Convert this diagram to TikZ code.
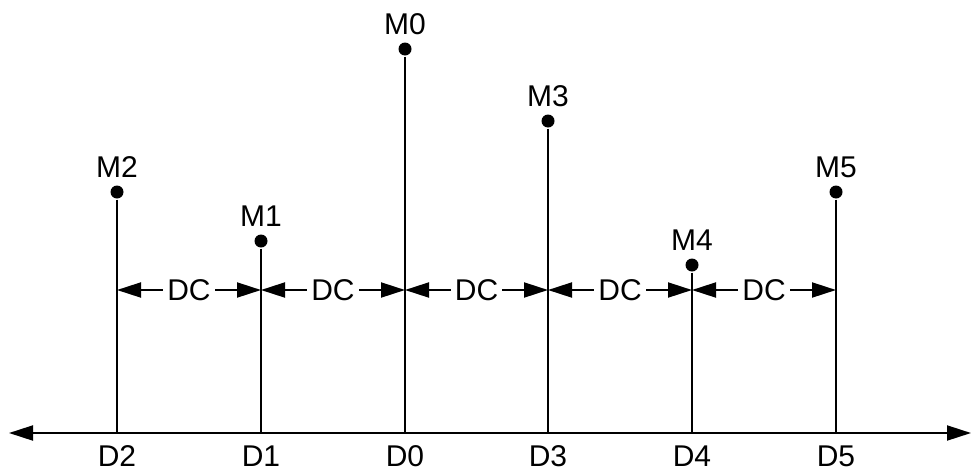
\documentclass[tikz,border=0pt]{standalone}
\usepackage{fontspec}
\setmainfont{Liberation Sans}
\usetikzlibrary{arrows.meta}

\begin{document}
\begin{tikzpicture}[x=1pt,y=-1pt,line width=2pt,
  >={Triangle[length=24pt,width=15pt]},
  dot/.style={circle,fill,inner sep=0pt,minimum size=13pt},
  lbl/.style={font=\fontsize{30pt}{36pt}\selectfont,inner sep=0pt}]
  \useasboundingbox (0,0) rectangle (972,469);

  % masts, dots and labels
  \foreach \i/\x/\y in {2/117/192,1/261/241,0/405/49,3/548/121,4/692/265,5/836/192} {
    \node[dot] (m\i) at (\x,\y) {};
    \coordinate (d\i) at (\x,433);
    \coordinate (c\i) at (\x,290);
    \node[lbl] (mlab\i) at (\x,\y-25) {M\i};
    \node[lbl] (dlab\i) at (\x,456) {D\i};
    \draw (m\i) -- (d\i);
  }

  % axis
  \coordinate (left) at (9,433);
  \coordinate (right) at (971,433);
  \draw[<->] (left) -- (right);

  % spacings
  \foreach \a/\b in {2/1,1/0,0/3,3/4,4/5}
    \draw[<->] (c\a) -- node[lbl,fill=white,inner sep=4pt] (dc\a) {DC} (c\b);
\end{tikzpicture}
\end{document}
